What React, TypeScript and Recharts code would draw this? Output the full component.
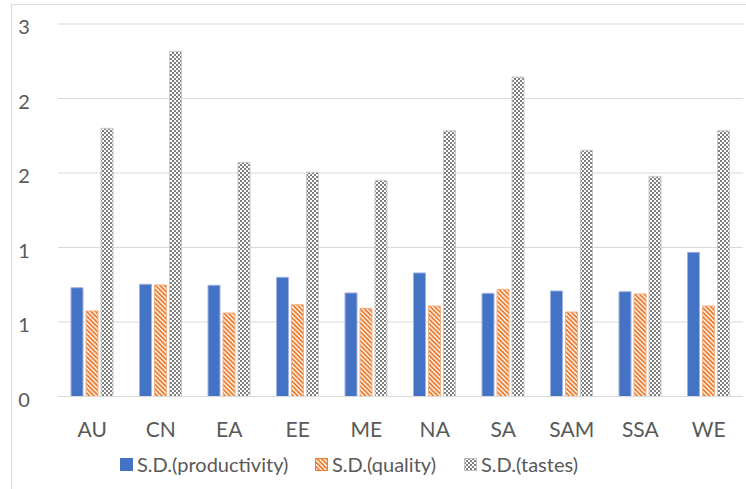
import React from "react";
import { BarChart, Bar, XAxis, YAxis, CartesianGrid } from "recharts";

const regions = ["AU", "CN", "EA", "EE", "ME", "NA", "SA", "SAM", "SSA", "WE"];
const productivity = [0.876, 0.904, 0.896, 0.96, 0.834, 0.995, 0.831, 0.85, 0.844, 1.161];
const quality = [0.689, 0.898, 0.672, 0.739, 0.71, 0.729, 0.863, 0.68, 0.826, 0.729];
const tastes = [2.16, 2.78, 1.886, 1.806, 1.741, 2.14, 2.573, 1.983, 1.773, 2.14];
const yTicks = [0, 0.6, 1.2, 1.8, 2.4, 3.0];

const seriesNames = ["S.D.(productivity)", "S.D.(quality)", "S.D.(tastes)"];

const data = regions.map((r, i) => ({
  region: r,
  productivity: productivity[i],
  quality: quality[i],
  tastes: tastes[i],
}));

const FONT = "Lato, 'Open Sans', sans-serif";
const TEXT = "#595959";

function Patterns() {
  return (
    <svg width={0} height={0} style={{ position: "absolute" }}>
      <defs>
        <pattern
          id="stripes"
          width={3.2}
          height={3.2}
          patternUnits="userSpaceOnUse"
          patternTransform="rotate(-45)"
        >
          <rect width={3.2} height={3.2} fill="#fff" />
          <rect width={1.9} height={3.2} fill="#ED7D31" />
        </pattern>
        <pattern id="checks" width={4} height={4} patternUnits="userSpaceOnUse">
          <rect width={4} height={4} fill="#fff" />
          <rect width={2} height={2} fill="#7f7f7f" />
          <rect x={2} y={2} width={2} height={2} fill="#7f7f7f" />
        </pattern>
      </defs>
    </svg>
  );
}

function XTick({ x, y, payload }: any) {
  return (
    <text
      x={x}
      y={y + 32}
      textAnchor="middle"
      dominantBaseline="central"
      fontSize={21}
      fontFamily={FONT}
      fill={TEXT}
    >
      {payload.value}
    </text>
  );
}

function YTick({ y, payload }: any) {
  return (
    <text
      x={24}
      y={y + 2}
      textAnchor="middle"
      dominantBaseline="central"
      fontSize={20}
      fontFamily={FONT}
      fill={TEXT}
    >
      {Math.round(payload.value)}
    </text>
  );
}

const swatches = [
  { fill: "#4472C4", stroke: "#4472C4", left: 120 },
  { fill: "url(#stripes)", stroke: "#ED7D31", left: 315 },
  { fill: "url(#checks)", stroke: "#bfbfbf", left: 464 },
];

function Legend() {
  return (
    <>
      {seriesNames.map((name, i) => (
        <div
          key={name}
          style={{
            position: "absolute",
            left: swatches[i].left,
            top: 452,
            height: 24,
            display: "flex",
            alignItems: "center",
            fontFamily: FONT,
            fontSize: 20,
            color: TEXT,
            whiteSpace: "nowrap",
          }}
        >
          <svg width={13} height={13} style={{ marginRight: 4 }}>
            <rect
              x={0.5}
              y={0.5}
              width={12}
              height={12}
              fill={swatches[i].fill}
              stroke={swatches[i].stroke}
              strokeWidth={1}
            />
          </svg>
          <span>{name}</span>
        </div>
      ))}
    </>
  );
}

export default function App() {
  return (
    <div
      style={{
        position: "fixed",
        left: 0,
        top: 0,
        width: 746,
        height: 489,
        overflow: "hidden",
        background: "#fff",
      }}
    >
      <Patterns />
      <div
        style={{
          position: "absolute",
          left: 11,
          top: 4,
          width: 800,
          height: 600,
          borderLeft: "1px solid #d9d9d9",
          borderTop: "1px solid #d9d9d9",
        }}
      />
      <div style={{ position: "absolute", left: 0, top: 0 }}>
        <BarChart
          width={746}
          height={489}
          data={data}
          margin={{ top: 24, right: 3, left: 0, bottom: 62.5 }}
          barCategoryGap="19%"
          barGap={3}
        >
          <CartesianGrid vertical={false} stroke="#d9d9d9" strokeWidth={1} />
          <XAxis
            dataKey="region"
            height={30}
            tickSize={0}
            tickMargin={0}
            tickLine={false}
            axisLine={{ stroke: "#d9d9d9" }}
            tick={<XTick />}
            interval={0}
          />
          <YAxis
            width={58}
            domain={[0, 3]}
            ticks={yTicks}
            axisLine={false}
            tickLine={false}
            tick={<YTick />}
          />
          <Bar
            dataKey="productivity"
            name={seriesNames[0]}
            fill="#4472C4"
            stroke="#9db3e0"
            strokeWidth={1}
            isAnimationActive={false}
          />
          <Bar
            dataKey="quality"
            name={seriesNames[1]}
            fill="url(#stripes)"
            stroke="#f4b183"
            strokeWidth={1}
            isAnimationActive={false}
          />
          <Bar
            dataKey="tastes"
            name={seriesNames[2]}
            fill="url(#checks)"
            stroke="#c9c9c9"
            strokeWidth={1}
            isAnimationActive={false}
          />
        </BarChart>
      </div>
      <Legend />
    </div>
  );
}
